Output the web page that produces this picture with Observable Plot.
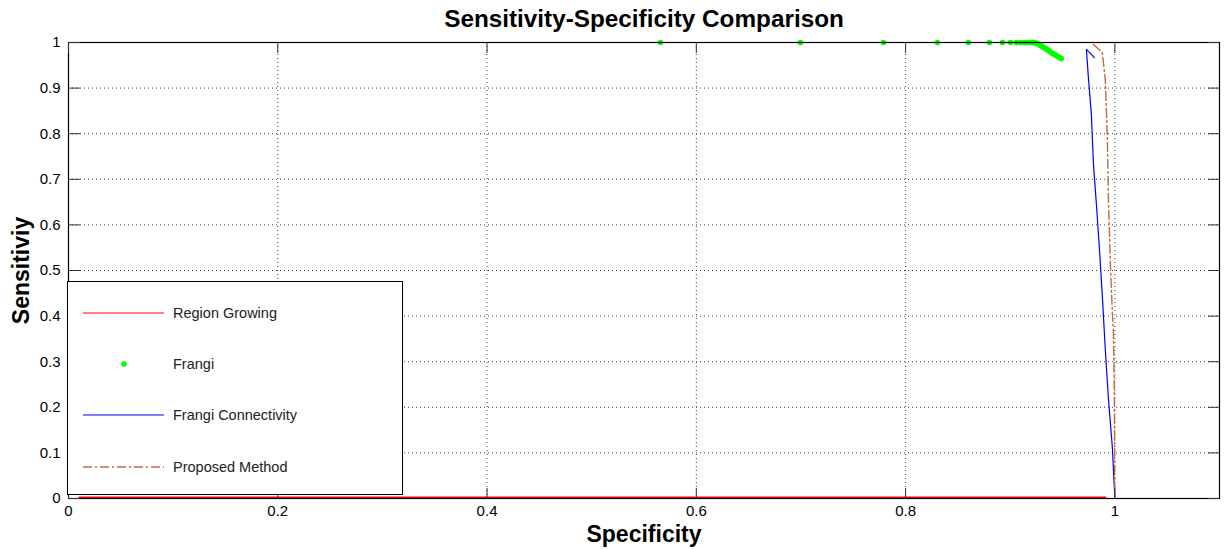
<!DOCTYPE html>
<html><head><meta charset="utf-8">
<script src="https://cdn.jsdelivr.net/npm/d3@7"></script>
<script src="https://cdn.jsdelivr.net/npm/@observablehq/plot@0.6"></script>
<style>
body{margin:0;background:#fff;font-family:"Liberation Sans",Arial,sans-serif;}
#wrap{position:relative;width:1227px;height:549px;overflow:hidden;}
#legend{position:absolute;left:67px;top:281px;width:336px;height:214px;background:#fff;border:1px solid #000;box-sizing:border-box;}
#legend svg{position:absolute;left:0;top:0;}
</style></head>
<body><div id="wrap"></div>
<script>
const titleText = "Sensitivity-Specificity Comparison";
const xLabel = "Specificity";
const yLabel = "Sensitiviy";
const xTicks = [0, 0.2, 0.4, 0.6, 0.8, 1];
const xTickLabels = ["0", "0.2", "0.4", "0.6", "0.8", "1"];
const yTicks = [0, 0.1, 0.2, 0.3, 0.4, 0.5, 0.6, 0.7, 0.8, 0.9, 1];
const yTickLabels = ["0", "0.1", "0.2", "0.3", "0.4", "0.5", "0.6", "0.7", "0.8", "0.9", "1"];
const seriesNames = ["Region Growing", "Frangi", "Frangi Connectivity", "Proposed Method"];
const seriesColors = ["#ff0000", "#00ff00", "#0000ff", "#c8693a"];

// Region Growing
const regionX = [0.0105, 0.991];
const regionY = [0.002, 0.002];
// Frangi
const frangiX = [0.5657, 0.6995, 0.7788, 0.8304, 0.8600, 0.8801, 0.8925, 0.9001, 0.9059, 0.9097,
  0.9126, 0.9145, 0.9163, 0.9180, 0.9196, 0.9212, 0.9226, 0.9240, 0.9255, 0.9270, 0.9285,
  0.9300, 0.9315, 0.9330, 0.9345, 0.9360, 0.9375, 0.9390, 0.9405, 0.9420, 0.9435, 0.9450, 0.9465, 0.9480, 0.9489];
const frangiY = [1, 1, 1, 1, 1, 1, 1, 1, 1, 1,
  1, 1, 1, 1, 1, 1, 1, 0.999, 0.998, 0.996, 0.994,
  0.992, 0.990, 0.988, 0.986, 0.984, 0.981, 0.978, 0.976, 0.974, 0.972, 0.970, 0.968, 0.966, 0.965];
// Frangi Connectivity
const connX = [0.9804, 0.9728, 0.9747, 0.9775, 0.9795, 0.9823, 0.9852, 0.9881, 0.9909, 0.9938, 0.9976, 1.0];
const connY = [0.967, 0.985, 0.923, 0.844, 0.735, 0.647, 0.550, 0.441, 0.325, 0.221, 0.112, 0];
// Proposed Method
const propX = [0.9795, 0.9880, 0.9909, 0.9928, 0.9938, 0.9957, 0.9976, 0.9986, 0.9995, 1.0];
const propY = [0.9956, 0.978, 0.917, 0.792, 0.660, 0.515, 0.406, 0.368, 0.221, 0];

const toRows = (xs, ys) => xs.map((x, i) => ({x, y: ys[i]}));
const region = toRows(regionX, regionY);
const frangi = toRows(frangiX, frangiY);
const conn = toRows(connX, connY);
const prop = toRows(propX, propY);

const font = "'Liberation Sans', Arial, sans-serif";

const chart = Plot.plot({
  width: 1227,
  height: 549,
  marginLeft: 68,
  marginRight: 8,
  marginTop: 42,
  marginBottom: 51,
  style: {fontFamily: font, background: "#fff", color: "#000", overflow: "visible"},
  x: {domain: [0, 1.1]},
  y: {domain: [0, 1]},
  marks: [
    Plot.gridX({ticks: xTicks.slice(1), stroke: "#000", strokeOpacity: 0.75, strokeDasharray: "1,3"}),
    Plot.gridY({ticks: yTicks.slice(1, -1), stroke: "#000", strokeOpacity: 0.75, strokeDasharray: "1,3"}),
    Plot.line(region, {x: "x", y: "y", stroke: seriesColors[0], strokeWidth: 2}),
    Plot.line(conn, {x: "x", y: "y", stroke: seriesColors[2], strokeWidth: 1.2}),
    Plot.line(prop, {x: "x", y: "y", stroke: seriesColors[3], strokeWidth: 1.4, strokeDasharray: "9,3,2,3"}),
    Plot.dot(frangi, {x: "x", y: "y", r: 2.8, fill: seriesColors[1], stroke: "none"}),
    Plot.frame({stroke: "#000", strokeWidth: 1.2}),
    // inward tick marks on all four sides
    Plot.axisX({ticks: xTicks, anchor: "top", frameAnchor: "bottom", tickSize: 11, fill: "none", label: null, stroke: "#333"}),
    Plot.axisX({ticks: xTicks, anchor: "bottom", frameAnchor: "top", tickSize: 11, fill: "none", label: null, stroke: "#333"}),
    Plot.axisY({ticks: yTicks, anchor: "right", frameAnchor: "left", tickSize: 11, fill: "none", label: null, stroke: "#333"}),
    Plot.axisY({ticks: yTicks, anchor: "left", frameAnchor: "right", tickSize: 11, fill: "none", label: null, stroke: "#333"}),
    // tick labels
    Plot.axisX({ticks: xTicks, anchor: "bottom", tickSize: 0, tickPadding: 7, label: null, fontSize: 15, tickFormat: (d) => xTickLabels[xTicks.indexOf(d)]}),
    Plot.axisY({ticks: yTicks, anchor: "left", tickSize: 0, tickPadding: 8, label: null, fontSize: 15, tickFormat: (d) => yTickLabels[yTicks.indexOf(d)]}),
    // title and axis titles
    Plot.text([titleText], {frameAnchor: "top", textAnchor: "middle", lineAnchor: "middle", dy: -23, fontSize: 24.3, fontWeight: "bold", fill: "#000"}),
    Plot.text([xLabel], {frameAnchor: "bottom", textAnchor: "middle", lineAnchor: "middle", dy: 36, fontSize: 23, fontWeight: "bold", fill: "#000"}),
    Plot.text([yLabel], {frameAnchor: "left", textAnchor: "middle", lineAnchor: "middle", rotate: -90, dx: -47, fontSize: 23, fontWeight: "bold", fill: "#000"})
  ]
});

const wrap = document.getElementById("wrap");
wrap.appendChild(chart);

// legend box (inside the axes, lower left)
const legend = document.createElement("div");
legend.id = "legend";
wrap.appendChild(legend);
const ls = d3.select(legend).append("svg").attr("width", 336).attr("height", 214)
  .style("font-family", font);
const rowY = [31, 82, 133, 185];
seriesNames.forEach((name, i) => {
  const g = ls.append("g").attr("transform", `translate(0,${rowY[i]})`);
  if (i === 1) {
    g.append("circle").attr("cx", 56).attr("cy", 0).attr("r", 2.8).attr("fill", seriesColors[i]);
  } else {
    const l = g.append("line").attr("x1", 15).attr("x2", 96).attr("y1", 0).attr("y2", 0)
      .attr("stroke", seriesColors[i]).attr("stroke-width", i === 3 ? 1.4 : 1.2);
    if (i === 3) l.attr("stroke-dasharray", "9,3,2,3");
  }
  g.append("text").attr("x", 105).attr("y", 0).attr("dy", "0.35em")
    .attr("font-size", 14.5).attr("fill", "#222").text(name);
});
</script>
</body></html>
